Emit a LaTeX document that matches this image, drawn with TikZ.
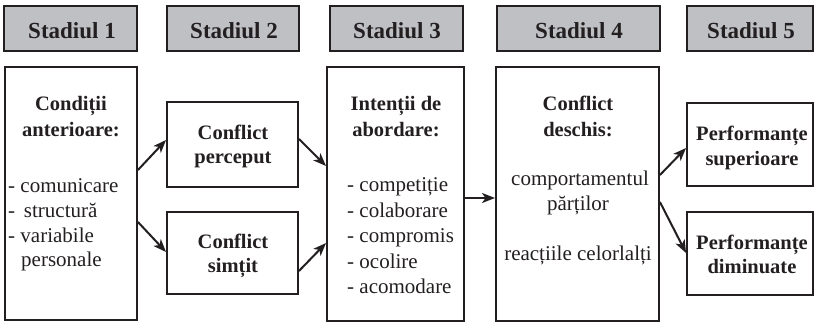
\documentclass[tikz,border=0pt]{standalone}
\usepackage{fontspec}
\newfontfamily\timesfont{Liberation Serif}
\usetikzlibrary{arrows.meta}
\definecolor{ink}{RGB}{35,31,32}
\definecolor{hdrfill}{RGB}{191,192,196}
\tikzset{
  frame/.style={draw=ink, line width=1.9pt, inner sep=0pt},
  hdr/.style={frame, fill=hdrfill},
  hdrtext/.style={anchor=base, inner sep=0pt, text=ink, font=\timesfont\fontsize{23}{27}\selectfont\bfseries},
  ttl/.style={anchor=base, inner sep=0pt, text=ink, font=\timesfont\fontsize{20.5}{25}\selectfont\bfseries},
  txt/.style={anchor=base, inner sep=0pt, text=ink, font=\timesfont\fontsize{21}{25}\selectfont},
  itm/.style={txt, anchor=base west},
  arr/.style={draw=ink, line width=2pt, -{Stealth[length=13pt,width=10pt,inset=3.5pt]}}
}
\begin{document}
\begin{tikzpicture}[x=1pt,y=-1pt]
\useasboundingbox (0,0) rectangle (815,322);

% stage headers
\node[hdr, minimum width=133pt, minimum height=45pt] (h1) at (70.5,28.5) {};
\node[hdr, minimum width=132pt, minimum height=45pt] (h2) at (233,28.5) {};
\node[hdr, minimum width=133pt, minimum height=45pt] (h3) at (396.5,28.5) {};
\node[hdr, minimum width=163pt, minimum height=45pt] (h4) at (578.5,28.5) {};
\node[hdr, minimum width=126pt, minimum height=45pt] (h5) at (750,28.5) {};
\node[hdrtext] (h1t) at (72,38) {Stadiul 1};
\node[hdrtext] (h2t) at (234,38) {Stadiul 2};
\node[hdrtext] (h3t) at (397,38) {Stadiul 3};
\node[hdrtext] (h4t) at (579,38) {Stadiul 4};
\node[hdrtext] (h5t) at (751,38) {Stadiul 5};

% stage boxes
\node[frame, minimum width=132pt, minimum height=253pt] (b1) at (71,193.5) {};
\node[frame, minimum width=131pt, minimum height=85pt] (cp) at (232.5,144.5) {};
\node[frame, minimum width=131pt, minimum height=82pt] (cs) at (232.5,253) {};
\node[frame, minimum width=137pt, minimum height=254pt] (b3) at (395.5,194) {};
\node[frame, minimum width=163pt, minimum height=254pt] (b4) at (577.5,194) {};
\node[frame, minimum width=126pt, minimum height=83pt] (ps) at (750,144.5) {};
\node[frame, minimum width=126pt, minimum height=83pt] (pd) at (750,253.5) {};

% stage 1
\node[ttl] (b1a) at (71,110) {Condiții};
\node[ttl] (b1b) at (71,136) {anterioare:};
\node[itm] (b1c) at (8,192) {- comunicare};
\node[itm] (b1d) at (8,217) {-\, structură};
\node[itm] (b1e) at (8,242) {- variabile};
\node[itm] (b1f) at (21,266) {personale};

% stage 2
\node[ttl] (cpa) at (233,139) {Conflict};
\node[ttl] (cpb) at (233,163) {perceput};
\node[ttl] (csa) at (233,248) {Conflict};
\node[ttl] (csb) at (233,272) {simțit};

% stage 3
\node[ttl] (b3a) at (396,110) {Intenții de};
\node[ttl] (b3b) at (396,136) {abordare:};
\node[itm] (b3c) at (347,191) {- competiție};
\node[itm] (b3d) at (347,217) {- colaborare};
\node[itm] (b3e) at (347,242) {- compromis};
\node[itm] (b3f) at (347,268) {- ocolire};
\node[itm] (b3g) at (347,293) {- acomodare};

% stage 4
\node[ttl] (b4a) at (578,110) {Conflict};
\node[ttl] (b4b) at (578,136) {deschis:};
\node[txt] (b4c) at (580,185) {comportamentul};
\node[txt] (b4d) at (578,210) {părților};
\node[txt] (b4e) at (578,260) {reacțiile celorlalți};

% stage 5
\node[ttl] (psa) at (752,140) {Performanțe};
\node[ttl] (psb) at (752,165) {superioare};
\node[ttl] (pda) at (752,249) {Performanțe};
\node[ttl] (pdb) at (752,273) {diminuate};

% connectors
\draw[arr] (b1.east |- 0,170) -- (cp.west |- 0,140);
\draw[arr] (b1.east |- 0,222) -- (cs.west |- 0,252);
\draw[arr] (cp.east |- 0,139) -- (b3.west |- 0,166);
\draw[arr] (cs.east |- 0,271) -- (b3.west |- 0,243);
\draw[arr] (b3.east |- 0,198) -- (b4.west |- 0,198);
\draw[arr] (b4.east |- 0,175) -- (ps.west |- 0,148);
\draw[arr] (b4.east |- 0,202) -- (pd.west |- 0,253);
\end{tikzpicture}
\end{document}
